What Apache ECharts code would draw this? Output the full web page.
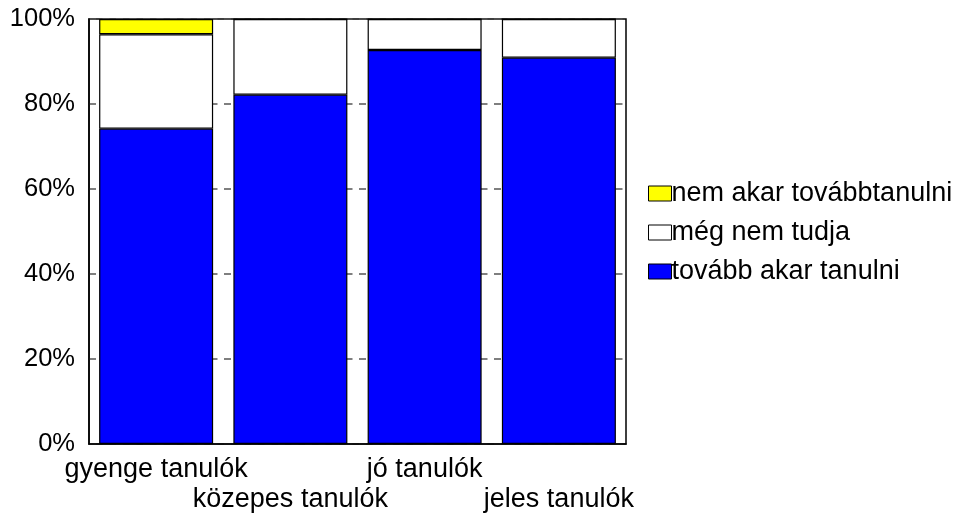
<!DOCTYPE html>
<html><head><meta charset="utf-8">
<script src="https://cdn.jsdelivr.net/npm/echarts@6/dist/echarts.min.js"></script>
<style>html,body{margin:0;padding:0;background:#fff}#c{width:955px;height:515px}</style>
</head><body><div id="c"></div>
<script>
var categories = ['gyenge tanulók', 'közepes tanulók', 'jó tanulók', 'jeles tanulók'];
var tovabbAkar = [74.2, 82.2, 92.7, 90.9];
var megNemTudja = [22.2, 17.8, 7.3, 9.1];
var nemAkar = [3.6, 0, 0, 0];
var yTicks = [0, 20, 40, 60, 80, 100];

var FONT = 'Liberation Sans, Arial, sans-serif';
var chart = echarts.init(document.getElementById('c'), null, {renderer: 'canvas'});
function barSeries(name, data, color) {
  return {
    name: name, type: 'bar', stack: 'total', data: data, barWidth: 114,
    itemStyle: {color: color, borderColor: '#000', borderWidth: 1.2}
  };
}
chart.setOption({
  animation: false,
  backgroundColor: '#fff',
  textStyle: {fontFamily: FONT},
  grid: {left: 89, right: 329, top: 19, bottom: 69, show: true, borderColor: '#000', borderWidth: 1.5, backgroundColor: 'transparent'},
  legend: {
    orient: 'vertical', left: 643, top: 175,
    itemWidth: 23, itemHeight: 15, itemGap: 12,
    data: ['nem akar továbbtanulni', 'még nem tudja', 'tovább akar tanulni'],
    textStyle: {fontSize: 27, color: '#000', fontFamily: FONT, padding: [0,0,0,-5]},
    icon: 'rect',
    itemStyle: {borderColor: '#000', borderWidth: 1}
  },
  xAxis: {
    type: 'category', data: categories,
    axisLine: {lineStyle: {color: '#000', width: 1.5}},
    axisTick: {show: false},
    axisLabel: {
      color: '#000', fontSize: 27, fontFamily: FONT, margin: 11, lineHeight: 30, interval: 0,
      formatter: function (v, i) { return i % 2 === 1 ? '\n' + v : v; }
    }
  },
  yAxis: {
    type: 'value', min: 0, max: 100, interval: 20,
    axisLine: {show: true, lineStyle: {color: '#000', width: 1.5}},
    axisTick: {show: false},
    splitLine: {show: true, lineStyle: {color: '#555', width: 1.5, type: [7, 6.5]}},
    axisLabel: {color: '#000', fontSize: 25.5, fontFamily: FONT, margin: 14,
      formatter: function (v) { return yTicks.indexOf(v) >= 0 ? v + '%' : ''; }}
  },
  series: [
    barSeries('tovább akar tanulni', tovabbAkar, '#0000ff'),
    barSeries('még nem tudja', megNemTudja, '#ffffff'),
    barSeries('nem akar továbbtanulni', nemAkar, '#ffff00')
  ]
});
</script></body></html>
